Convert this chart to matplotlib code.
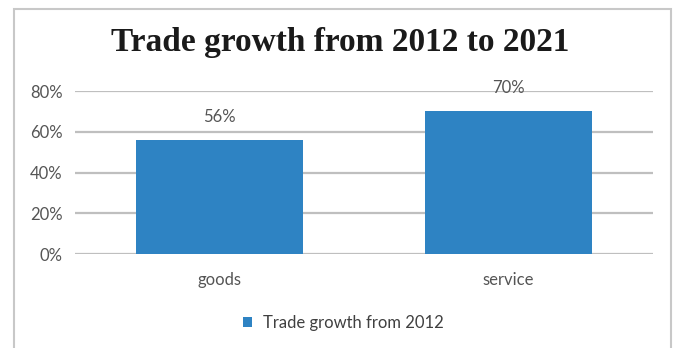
import matplotlib
matplotlib.use("Agg")
import matplotlib.pyplot as plt
from matplotlib.patches import Rectangle
from matplotlib.ticker import PercentFormatter

# growth of trade, 2012 -> 2021
categories = ["goods", "service"]
growth = [56, 70]
series_name = "Trade growth from 2012"
title = "Trade growth from 2012 to 2021"

bar_color = "#2E83C3"
grid_color = "#BFBFBF"
text_color = "#555555"

fig = plt.figure(figsize=(6.76, 3.48), dpi=100)
ax = fig.add_axes([0.111, 0.270, 0.855, 0.4685])

bars = ax.bar(categories, growth, width=0.575, color=bar_color, label=series_name, zorder=3)
ax.set_xlim(-0.5, 1.5)
ax.set_ylim(0, 80)
ax.set_yticks([0, 20, 40, 60, 80])
ax.yaxis.set_major_formatter(PercentFormatter(decimals=0))
ax.grid(axis="y", color=grid_color, linewidth=1.6, zorder=0)
for s in ax.spines.values():
    s.set_visible(False)
ax.tick_params(axis="both", length=0, labelsize=12, labelcolor=text_color)
ax.tick_params(axis="y", pad=9)
ax.tick_params(axis="x", pad=13)
for lbl in ax.get_xticklabels() + ax.get_yticklabels():
    lbl.set_family("Lato")

# value labels over the bars
for b, v in zip(bars, growth):
    ax.annotate(f"{v}%", (b.get_x() + b.get_width() / 2, v), xytext=(0, 11),
                textcoords="offset points", ha="center", va="bottom",
                fontsize=12, color=text_color, family="Lato")

fig.text(0.503, 0.878, title, ha="center", va="center", fontsize=24,
         fontweight="bold", family="Liberation Serif", color="#1a1a1a")

leg = fig.legend(loc="center", bbox_to_anchor=(0.508, 0.072), frameon=False,
                 handlelength=0.55, handleheight=0.55, handletextpad=0.7,
                 prop={"family": "Lato", "size": 12})
for t in leg.get_texts():
    t.set_color("#404040")

# outer frame of the chart area
fig.patches.append(Rectangle((14 / 676, -0.1), 657 / 676, 1.1 - 9 / 348,
                             transform=fig.transFigure, fill=False,
                             edgecolor="#C8C8C8", linewidth=1.5))

fig.savefig("out.png", dpi=100, facecolor="white")
